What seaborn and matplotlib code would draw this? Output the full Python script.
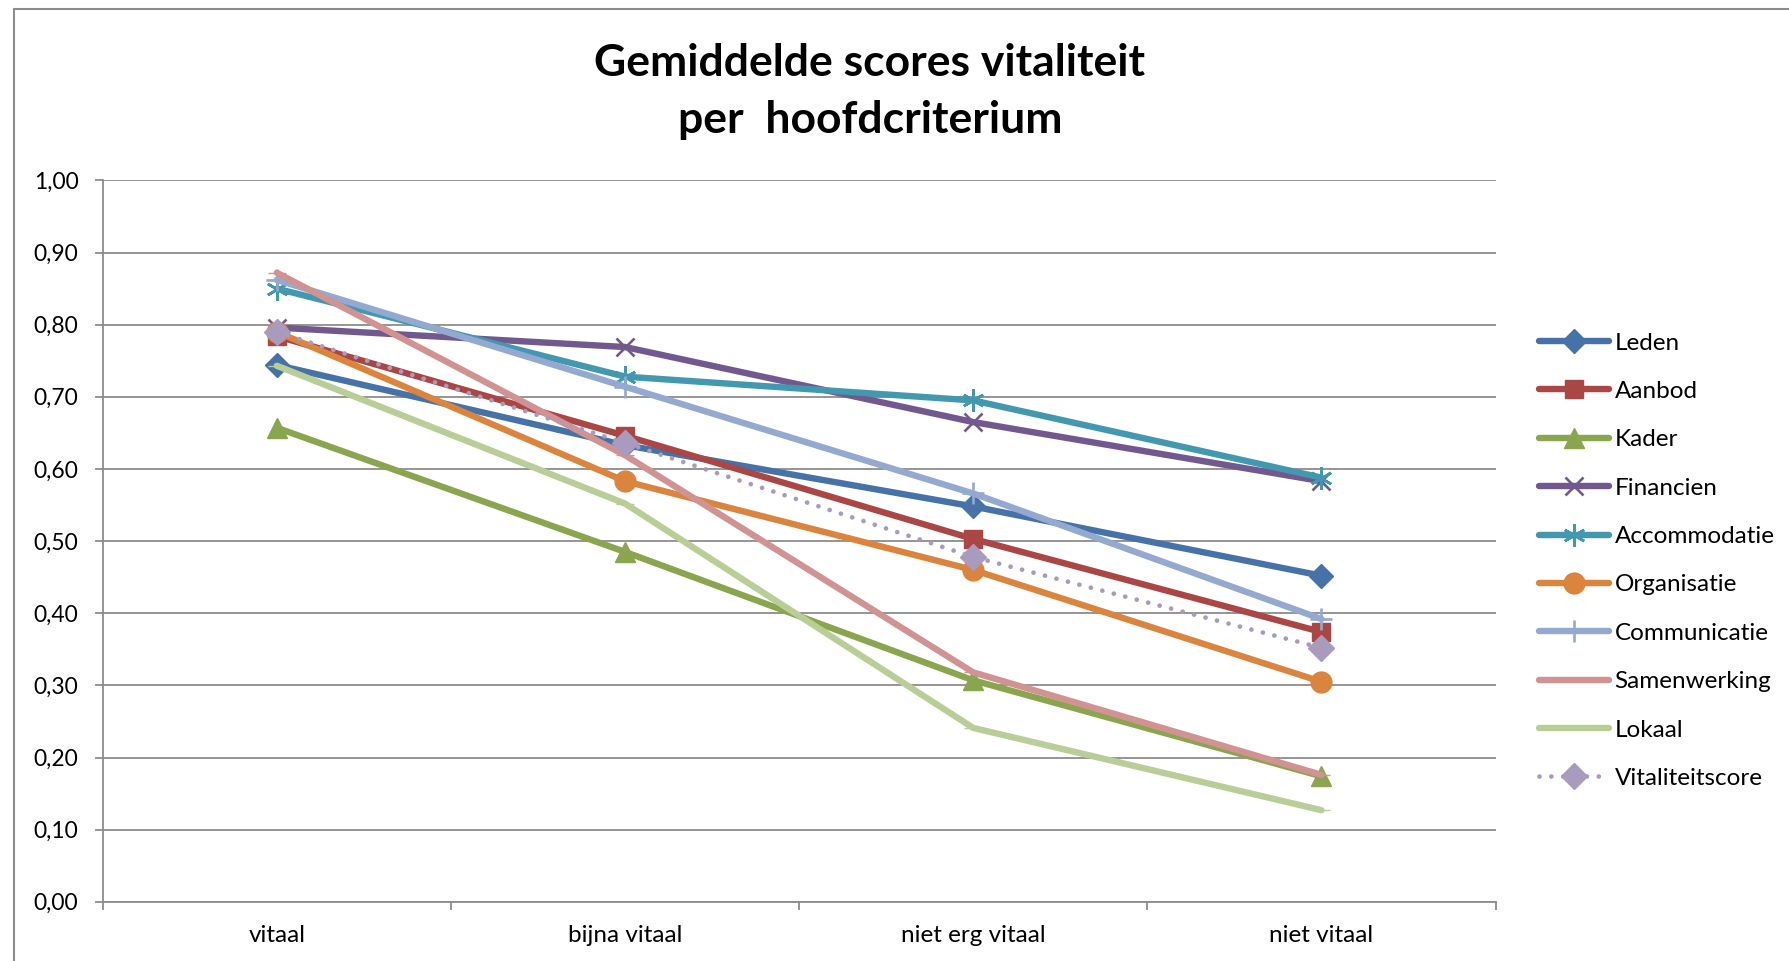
import matplotlib
matplotlib.use("Agg")
import matplotlib.pyplot as plt
from matplotlib.lines import Line2D
from matplotlib.ticker import FuncFormatter, MultipleLocator
import pandas as pd
import seaborn as sns

# Data
categories = ["vitaal", "bijna vitaal", "niet erg vitaal", "niet vitaal"]
leden = [0.744, 0.633, 0.548, 0.452]
aanbod = [0.784, 0.646, 0.503, 0.374]
kader = [0.657, 0.485, 0.307, 0.174]
financien = [0.796, 0.769, 0.665, 0.583]
accommodatie = [0.850, 0.728, 0.695, 0.588]
organisatie = [0.790, 0.583, 0.460, 0.305]
communicatie = [0.862, 0.714, 0.566, 0.392]
samenwerking = [0.872, 0.619, 0.318, 0.176]
lokaal = [0.743, 0.552, 0.241, 0.127]
vitaliteitscore = [0.790, 0.636, 0.478, 0.352]

series = {
    "Leden": leden,
    "Aanbod": aanbod,
    "Kader": kader,
    "Financien": financien,
    "Accommodatie": accommodatie,
    "Organisatie": organisatie,
    "Communicatie": communicatie,
    "Samenwerking": samenwerking,
    "Lokaal": lokaal,
    "Vitaliteitscore": vitaliteitscore,
}

# Excel 2007 style colours and markers
styles = {
    "Leden": ("#4572A7", "D", 12),
    "Aanbod": ("#AA4643", "s", 13),
    "Kader": ("#89A54E", "^", 14),
    "Financien": ("#71588F", "x", 13),
    "Accommodatie": ("#4198AF", (6, 2, 0), 16),
    "Organisatie": ("#DB843D", "o", 15),
    "Communicatie": ("#93A9CF", "+", 16),
    "Samenwerking": ("#D19392", "_", 13),
    "Lokaal": ("#B9CD96", "_", 13),
    "Vitaliteitscore": ("#A99BBD", "D", 13),
}

df = pd.DataFrame(
    [(name, i, v) for name, vals in series.items() for i, v in enumerate(vals)],
    columns=["serie", "pos", "score"],
)

sns.set_style("white")
plt.rcParams["font.family"] = ["Lato", "DejaVu Sans"]
plt.rcParams["text.color"] = "black"
plt.rcParams["xtick.color"] = "black"
plt.rcParams["ytick.color"] = "black"

fig = plt.figure(figsize=(17.9, 9.61), dpi=100)
ax = fig.add_axes([0.0574, 0.0616, 0.7781, 0.7507])


def line_kw(name):
    color, marker, ms = styles[name]
    dotted = name == "Vitaliteitscore"
    return dict(
        color=color,
        linewidth=3.4 if dotted else 4.6,
        marker=marker, markersize=ms,
        markeredgecolor=color, markerfacecolor=color,
        markeredgewidth=1.9 if marker in ("x", "+", (6, 2, 0)) else 1,
        linestyle=(0, (0.01, 2.5)) if dotted else "-",
        dash_capstyle="round",
    )


handles = []
for name in series:
    sub = df[df["serie"] == name]
    sns.lineplot(data=sub, x="pos", y="score", ax=ax, legend=False,
                 zorder=3, **line_kw(name))
    handles.append(Line2D([], [], label=name, solid_capstyle="round",
                          **line_kw(name)))

ax.set_xlim(-0.5, len(categories) - 0.5)
ax.set_ylim(0, 1.0)
ax.yaxis.set_major_locator(MultipleLocator(0.1))
ax.yaxis.set_major_formatter(FuncFormatter(lambda v, p: f"{v:.2f}".replace(".", ",")))
ax.set_xticks(range(len(categories)))
ax.set_xticklabels(categories)
ax.set_xticks([i - 0.5 for i in range(len(categories) + 1)], minor=True)
ax.set_xlabel("")
ax.set_ylabel("")

ax.grid(axis="y", color="#8c8c8c", linewidth=1.3, zorder=0)
for side in ("top", "right"):
    ax.spines[side].set_visible(False)
for side in ("left", "bottom"):
    ax.spines[side].set_color("#8c8c8c")
    ax.spines[side].set_linewidth(1.3)

ax.tick_params(axis="x", which="major", bottom=False, length=0, labelsize=17.5, pad=17)
ax.tick_params(axis="x", which="minor", bottom=True, length=5.5, width=1.3,
               color="#8c8c8c", direction="out")
ax.tick_params(axis="y", left=True, length=5.5, width=1.3, color="#8c8c8c",
               direction="out", labelsize=16.5, pad=12)

fig.text(0.486, 0.905, "Gemiddelde scores vitaliteit\nper  hoofdcriterium",
         ha="center", va="center", fontsize=32, fontweight="bold",
         linespacing=1.5)

fig.legend(handles=handles, loc="center left", bbox_to_anchor=(0.8545, 0.4165),
           frameon=False, fontsize=17.5, handlelength=2.85, labelspacing=1.125,
           handletextpad=0.25, borderaxespad=0)

# chart border (top and left edge of the Excel chart area)
fig.add_artist(Line2D([0.0078, 1.0], [0.9906, 0.9906], color="#8c8c8c", linewidth=1.5))
fig.add_artist(Line2D([0.0078, 0.0078], [0.0, 0.9906], color="#8c8c8c", linewidth=1.5))

fig.savefig("out.png", dpi=100, facecolor="white")
